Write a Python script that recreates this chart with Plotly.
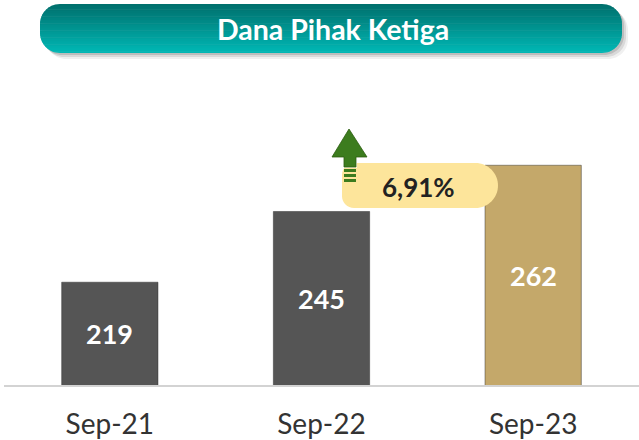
import numpy as np
import plotly.graph_objects as go

# ---------------- data ----------------
categories = ["Sep-21", "Sep-22", "Sep-23"]
values = [219, 245, 262]
value_labels = ["219", "245", "262"]
bar_colors = ["#555555", "#555555", "#C4A86A"]
growth_label = "6,91%"
title_text = "Dana Pihak Ketiga"

# ---------------- layout constants ----------------
W_FIG, H_FIG = 639, 440
ML, MR, MT, MB = 4, 0, 60, 55
PW = W_FIG - ML - MR
PH = H_FIG - MT - MB
Y_MIN, Y_MAX = 181.2, 300.7
FONT = "Lato, 'Open Sans', sans-serif"


def fx(x):
    return (x - ML) / PW


def fy(y):
    return (H_FIG - MB - y) / PH


def P(x, y):
    return f"{fx(x):.5f},{fy(y):.5f}"


K = 0.5523


def rrect(x0, y0, x1, y1, rtl, rtr, rbr, rbl):
    s = f"M{P(x0 + rtl, y0)} L{P(x1 - rtr, y0)} "
    s += f"C{P(x1 - rtr + K * rtr, y0)} {P(x1, y0 + rtr - K * rtr)} {P(x1, y0 + rtr)} "
    s += f"L{P(x1, y1 - rbr)} "
    s += f"C{P(x1, y1 - rbr + K * rbr)} {P(x1 - rbr + K * rbr, y1)} {P(x1 - rbr, y1)} "
    s += f"L{P(x0 + rbl, y1)} "
    s += f"C{P(x0 + rbl - K * rbl, y1)} {P(x0, y1 - rbl + K * rbl)} {P(x0, y1 - rbl)} "
    s += f"L{P(x0, y0 + rtl)} "
    s += f"C{P(x0, y0 + rtl - K * rtl)} {P(x0 + rtl - K * rtl, y0)} {P(x0 + rtl, y0)} Z"
    return s


def poly(points):
    return "M" + " L".join(P(x, y) for x, y in points) + " Z"


def mix(c1, c2, t):
    a = [int(c1[i:i + 2], 16) for i in (1, 3, 5)]
    b = [int(c2[i:i + 2], 16) for i in (1, 3, 5)]
    return "#" + "".join(f"{int(round(a[i] + (b[i] - a[i]) * t)):02x}" for i in range(3))


shapes = []

# ---- title banner (shadow + vertical gradient) ----
BX0, BY0, BX1, BY1, BR = 40, 4, 622, 53, 20
for off, op in [(6, 0.08), (4, 0.13), (2, 0.18)]:
    shapes.append(dict(type="path", xref="paper", yref="paper", layer="above",
                       path=rrect(BX0 + off, BY0 + off, BX1 + off, BY1 + off, BR, BR, BR, BR),
                       fillcolor=f"rgba(60,60,60,{op})", line=dict(width=0)))


def xbounds(y):
    dy = 0.0
    if y < BY0 + BR:
        dy = BY0 + BR - y
    elif y > BY1 - BR:
        dy = y - (BY1 - BR)
    dx = BR - np.sqrt(max(BR * BR - dy * dy, 0.0))
    return BX0 + dx, BX1 - dx


NB = 28
edges = np.linspace(BY0, BY1, NB + 1)
for i in range(NB):
    ya, yb = edges[i], min(edges[i + 1] + 0.6, BY1)
    ys = np.linspace(ya, yb, 5)
    left = [(xbounds(y)[0], y) for y in ys]
    right = [(xbounds(y)[1], y) for y in ys[::-1]]
    col = mix("#00706d", "#00b7b4", i / (NB - 1))
    shapes.append(dict(type="path", xref="paper", yref="paper", layer="above",
                       path=poly(left + right), fillcolor=col, line=dict(width=0)))

# ---- growth pill ----
shapes.append(dict(type="path", xref="paper", yref="paper", layer="above",
                   path=rrect(342, 163, 498, 208, 12, 22.5, 22.5, 12),
                   fillcolor="#FDE59B", line=dict(width=0)))

# ---- green up arrow ----
arrow = [(349, 129), (367, 157), (356, 157), (356, 167), (344, 167), (344, 157), (332, 157)]
shapes.append(dict(type="path", xref="paper", yref="paper", layer="above",
                   path=poly(arrow), fillcolor="#3C7C1E",
                   line=dict(color="white", width=1.5)))
shapes.append(dict(type="path", xref="paper", yref="paper", layer="above",
                   path=poly(arrow), fillcolor="#3C7C1E",
                   line=dict(color="#2C5E10", width=0.8)))
for y0 in (169, 174, 179):
    shapes.append(dict(type="rect", xref="paper", yref="paper", layer="above",
                       x0=fx(344), x1=fx(356), y0=fy(y0), y1=fy(y0 + 3),
                       fillcolor="#3C7C1E", line=dict(width=0)))

# ---------------- figure ----------------
fig = go.Figure()
fig.add_trace(go.Bar(
    x=categories, y=values,
    marker=dict(color=bar_colors, line=dict(color="rgba(40,40,40,0.45)", width=1)),
    width=0.455, textposition="none", hoverinfo="x+y",
))

annotations = []
for c, v, t in zip(categories, values, value_labels):
    annotations.append(dict(x=c, y=(Y_MIN + v) / 2, xref="x", yref="y", text=f"<b>{t}</b>",
                            xanchor="center", yanchor="middle",
                            showarrow=False, font=dict(family=FONT, size=27, color="white")))

annotations.append(dict(x=fx(333), y=fy(29), xref="paper", yref="paper",
                        xanchor="center", yanchor="middle",
                        text=f"<b>{title_text}</b>", showarrow=False,
                        font=dict(family=FONT, size=28.5, color="white")))
annotations.append(dict(x=fx(418), y=fy(187), xref="paper", yref="paper",
                        xanchor="center", yanchor="middle",
                        text=f"<b>{growth_label}</b>", showarrow=False,
                        font=dict(family=FONT, size=26, color="#222222")))

fig.update_layout(
    width=W_FIG, height=H_FIG,
    margin=dict(l=ML, r=MR, t=MT, b=MB, pad=0),
    paper_bgcolor="white", plot_bgcolor="white",
    showlegend=False,
    shapes=shapes,
    annotations=annotations,
    font=dict(family=FONT),
    xaxis=dict(range=[-0.5, 2.5], showgrid=False, zeroline=False, ticks="",
               showline=True, linecolor="#D3D3D3", linewidth=2,
               tickfont=dict(family=FONT, size=28, color="#333333"),
               ticklabelstandoff=13),
    yaxis=dict(range=[Y_MIN, Y_MAX], visible=False, showgrid=False, zeroline=False),
)

fig.write_html("out.html", config={"displayModeBar": False},
               post_script="document.body.style.margin='0';document.body.style.overflow='hidden';")
